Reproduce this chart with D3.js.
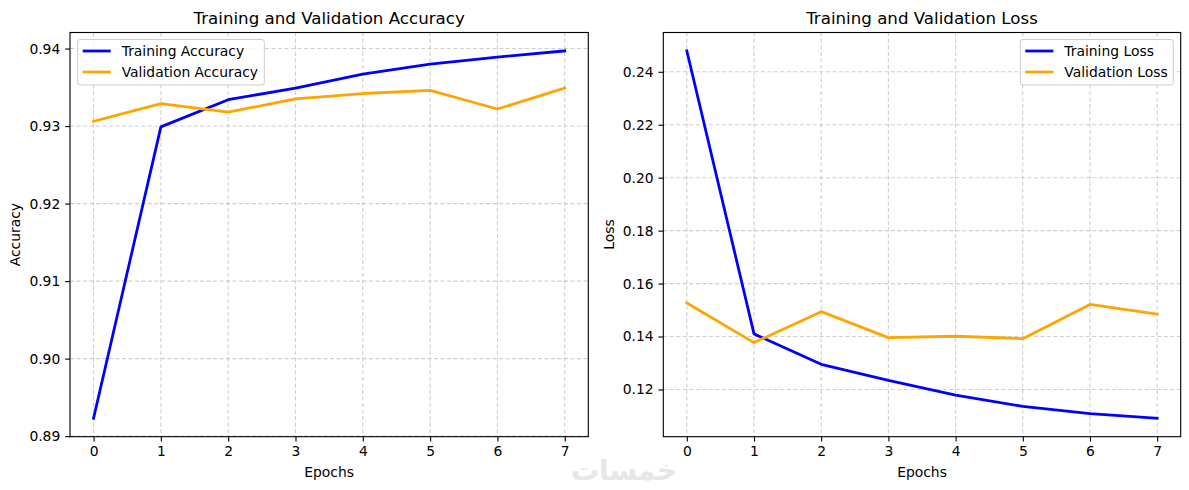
<!DOCTYPE html>
<html>
<head>
<meta charset="utf-8">
<script src="https://cdn.jsdelivr.net/npm/d3@7"></script>
<style>
  body { margin: 0; background: #fff; }
  svg text { font-family: "DejaVu Sans", sans-serif; fill: #000; }
</style>
</head>
<body>
<div id="chart"></div>
<script>
// epochs and history values
const epochs = [0, 1, 2, 3, 4, 5, 6, 7]
const trainAcc = [0.8923, 0.9299, 0.9334, 0.9349, 0.9367, 0.9380, 0.9389, 0.9397]
const valAcc = [0.9306, 0.9329, 0.9318, 0.9335, 0.9342, 0.9346, 0.9322, 0.9349]
const trainLoss = [0.2479, 0.1410, 0.1295, 0.1234, 0.1179, 0.1136, 0.1109, 0.1091]
const valLoss = [0.1527, 0.1377, 0.1494, 0.1396, 0.1401, 0.1392, 0.1521, 0.1484]
const accTicks = [0.89, 0.90, 0.91, 0.92, 0.93, 0.94]
const lossTicks = [0.12, 0.14, 0.16, 0.18, 0.20, 0.22, 0.24]

const W = 1189, H = 490
const pt = 100 / 72

var svg = d3.select("#chart")
    .append("svg")
    .attr("width", W)
    .attr("height", H)

// padded extent like matplotlib autoscale
function padded(arrs, m) {
    let ext = d3.extent(arrs.flat())
    let pad = (ext[1] - ext[0]) * m
    return [ext[0] - pad, ext[1] + pad]
}

// faint watermark under the plots
svg.append("text")
    .attr("x", 624).attr("y", 480)
    .attr("text-anchor", "middle")
    .attr("font-size", 28)
    .attr("font-weight", "bold")
    .style("fill", "#e6e6e6")
    .text("خمسات")

function drawPanel(opts) {
    let x0 = opts.left, x1 = opts.right, y0 = 32.5, y1 = 436.7
    let g = svg.append("g")

    let x = d3.scaleLinear()
        .domain(padded([epochs], 0.05))
        .range([x0, x1])
    let y = d3.scaleLinear()
        .domain(padded(opts.series.map(s => s.values), 0.05))
        .range([y1, y0])

    // grid
    let grid = g.append("g")
        .attr("stroke", "#b0b0b0")
        .attr("stroke-opacity", 0.6)
        .attr("stroke-width", 0.8 * pt)
        .attr("stroke-dasharray", "4,2.5")
    grid.selectAll("line.gx")
        .data(epochs)
        .enter()
        .append("line")
        .attr("x1", d => x(d)).attr("x2", d => x(d))
        .attr("y1", y0).attr("y2", y1)
    grid.selectAll("line.gy")
        .data(opts.ticks)
        .enter()
        .append("line")
        .attr("class", "gy")
        .attr("y1", d => y(d)).attr("y2", d => y(d))
        .attr("x1", x0).attr("x2", x1)

    // axes
    let xAxis = d3.axisBottom(x).tickValues(epochs).tickSizeOuter(0).tickSize(3.5 * pt).tickPadding(3.5 * pt)
    let yAxis = d3.axisLeft(y).tickValues(opts.ticks).tickFormat(d3.format(".2f")).tickSizeOuter(0).tickSize(3.5 * pt).tickPadding(3.5 * pt)

    let gx = g.append("g").attr("transform", `translate(0,${y1})`).call(xAxis)
    let gy = g.append("g").attr("transform", `translate(${x0},0)`).call(yAxis)
    ;[gx, gy].forEach(a => {
        a.select(".domain").remove()
        a.selectAll("line").attr("stroke", "#000").attr("stroke-width", 0.8 * pt)
        a.selectAll("text").attr("font-size", 10 * pt).attr("fill", "#000")
            .style("font-family", "DejaVu Sans, sans-serif")
    })

    // lines
    let line = d3.line()
        .x((d, i) => x(epochs[i]))
        .y(d => y(d))
    opts.series.forEach(s => {
        g.append("path")
            .attr("d", line(s.values))
            .attr("fill", "none")
            .attr("stroke", s.color)
            .attr("stroke-width", 2 * pt)
            .attr("stroke-linejoin", "round")
            .attr("stroke-linecap", "square")
    })

    // spines
    g.append("rect")
        .attr("x", x0).attr("y", y0)
        .attr("width", x1 - x0).attr("height", y1 - y0)
        .attr("fill", "none")
        .attr("stroke", "#000")
        .attr("stroke-width", 0.8 * pt)

    // title and labels
    g.append("text")
        .attr("x", (x0 + x1) / 2).attr("y", 24)
        .attr("text-anchor", "middle")
        .attr("font-size", 12 * pt)
        .text(opts.title)
    g.append("text")
        .attr("x", (x0 + x1) / 2).attr("y", 477)
        .attr("text-anchor", "middle")
        .attr("font-size", 10 * pt)
        .text("Epochs")
    g.append("text")
        .attr("transform", `translate(${opts.ylabelX},${(y0 + y1) / 2}) rotate(-90)`)
        .attr("text-anchor", "middle")
        .attr("font-size", 10 * pt)
        .text(opts.ylabel)

    // legend
    let lg = g.append("g").attr("transform", `translate(${opts.legendX},39.5)`)
    lg.append("rect")
        .attr("width", opts.legendW).attr("height", 45.5)
        .attr("rx", 2.5)
        .attr("fill", "#fff").attr("fill-opacity", 0.8)
        .attr("stroke", "#cccccc").attr("stroke-width", 1)
    opts.series.forEach((s, i) => {
        let cy = 11.5 + i * 21
        lg.append("line")
            .attr("x1", 5).attr("x2", 33)
            .attr("y1", cy).attr("y2", cy)
            .attr("stroke", s.color)
            .attr("stroke-width", 2 * pt)
        lg.append("text")
            .attr("x", 44).attr("y", cy + 5)
            .attr("font-size", 10 * pt)
            .text(s.name)
    })
}

drawPanel({
    left: 70, right: 588.3,
    title: "Training and Validation Accuracy",
    ylabel: "Accuracy", ylabelX: 20,
    ticks: accTicks,
    legendX: 77.7, legendW: 186.6,
    series: [
        {name: "Training Accuracy", values: trainAcc, color: "blue"},
        {name: "Validation Accuracy", values: valAcc, color: "orange"}
    ]
})

drawPanel({
    left: 663.3, right: 1180.7,
    title: "Training and Validation Loss",
    ylabel: "Loss", ylabelX: 614,
    ticks: lossTicks,
    legendX: 1020.3, legendW: 153,
    series: [
        {name: "Training Loss", values: trainLoss, color: "blue"},
        {name: "Validation Loss", values: valLoss, color: "orange"}
    ]
})
</script>
</body>
</html>
